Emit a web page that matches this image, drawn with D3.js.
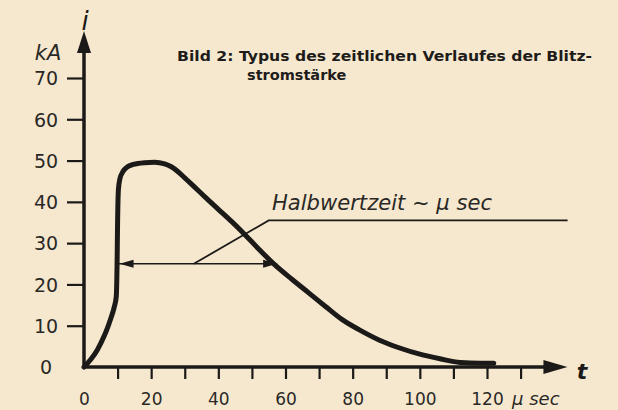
<!DOCTYPE html>
<html>
<head>
<meta charset="utf-8">
<script src="https://cdn.jsdelivr.net/npm/d3@7"></script>
<style>
  html, body { margin: 0; padding: 0; background: #f6e8cf; }
  svg { display: block; }
</style>
</head>
<body>
<svg id="chart" width="618" height="410"></svg>
<script>
// Blitzstrom: i (kA) over t (µs)
const timeUs = [0, 2, 4, 6, 7, 8, 9, 9.6, 9.85, 10, 10.25, 10.7, 11.5, 12.5, 14, 16, 18, 21, 24, 26,
                28, 30, 32, 36, 40, 44, 48, 52, 57, 62, 67, 72, 77, 82, 88, 94, 100, 106, 112, 118, 122];
const currentKA = [0, 1.8, 4.2, 7.5, 9.5, 11.8, 14.5, 17, 25, 35, 43, 45.6, 47.2, 48.2, 48.9, 49.3, 49.5, 49.6, 49.2, 48.5,
                   47.3, 45.8, 44.3, 41.2, 38.2, 35.2, 32.0, 28.6, 24.6, 21.2, 17.9, 14.6, 11.4, 9.0, 6.5, 4.6, 3.1, 2.0, 1.1, 0.9, 0.9];

const yTicks = [0, 10, 20, 30, 40, 50, 60, 70];
const xMinorTicks = [10, 20, 30, 40, 50, 60, 70, 80, 90, 100, 110, 120, 130];
const xLabels = [0, 20, 40, 60, 80, 100, 120];

// Halbwertzeit marker: arrow at half the peak, plus leader line to the text
const halfT = [10, 57.5];
const halfI = 25;
const leaderT = [32.7, 55, 144];
const leaderI = [25, 35.5, 35.5];

const titleLines = ["Bild 2: Typus des zeitlichen Verlaufes der Blitz-", "stromstärke"];
const noteText = "Halbwertzeit ~ µ sec";

const ink = "#1c1a18";
const svg = d3.select("#chart");

svg.append("rect").attr("width", 618).attr("height", 410).attr("fill", "#f6e8cf");

const x = d3.scaleLinear().domain([0, 120]).range([84, 487]);
const y = d3.scaleLinear().domain([0, 70]).range([367, 78]);

// axes lines with arrows
const xEnd = 138, yEnd = 77;
svg.append("line")
  .attr("x1", x(0)).attr("y1", y(0)).attr("x2", x(xEnd)).attr("y2", y(0))
  .attr("stroke", ink).attr("stroke-width", 3.5);
svg.append("line")
  .attr("x1", x(0)).attr("y1", y(0) + 1).attr("x2", x(0)).attr("y2", y(yEnd))
  .attr("stroke", ink).attr("stroke-width", 3.5);

svg.append("path")
  .attr("d", `M${x(xEnd) - 4},${y(0) - 7} L${x(xEnd) + 20},${y(0)} L${x(xEnd) - 4},${y(0) + 7} Z`)
  .attr("fill", ink);
svg.append("path")
  .attr("d", `M${x(0) - 7},${y(yEnd) + 4} L${x(0)},${y(yEnd) - 18} L${x(0) + 7},${y(yEnd) + 4} Z`)
  .attr("fill", ink);

// x ticks (below the axis) and labels
const gx = svg.append("g").attr("transform", `translate(0,${y(0)})`);
gx.call(d3.axisBottom(x).tickValues(xMinorTicks).tickSize(12).tickFormat(""));
gx.select(".domain").remove();
gx.selectAll(".tick line").attr("stroke", ink).attr("stroke-width", 2.2);

const gxl = svg.append("g").attr("transform", `translate(0,${y(0)})`);
gxl.call(d3.axisBottom(x).tickValues(xLabels).tickSize(0).tickPadding(26));
gxl.select(".domain").remove();
gxl.selectAll("text")
  .attr("font-family", "DejaVu Sans, sans-serif").attr("font-size", 17).attr("fill", "#2a2826");

// y ticks and labels
const gy = svg.append("g").attr("transform", `translate(${x(0)},0)`);
gy.call(d3.axisLeft(y).tickValues(yTicks).tickSize(17).tickPadding(4));
gy.select(".domain").remove();
gy.selectAll(".tick line")
  .attr("stroke", ink).attr("stroke-width", 2.2)
  .attr("display", d => d === 0 ? "none" : null);
gy.selectAll(".tick text")
  .attr("text-anchor", "middle").attr("x", -38).attr("dy", "0.36em")
  .attr("font-family", "DejaVu Sans, sans-serif").attr("font-size", 19).attr("fill", "#2a2826");

// axis names
svg.append("text").attr("x", 48).attr("y", 60).attr("text-anchor", "middle")
  .attr("font-family", "DejaVu Sans, sans-serif").attr("font-style", "italic")
  .attr("font-size", 21).attr("fill", "#2a2826").text("kA");
svg.append("text").attr("x", 85).attr("y", 30).attr("text-anchor", "middle")
  .attr("font-family", "DejaVu Sans, sans-serif").attr("font-style", "italic")
  .attr("font-size", 26).attr("fill", ink).text("i");
svg.append("text").attr("x", 582).attr("y", 379).attr("text-anchor", "middle")
  .attr("font-family", "DejaVu Sans, sans-serif").attr("font-style", "italic").attr("font-weight", "bold")
  .attr("font-size", 22).attr("fill", ink).text("t");
svg.append("text").attr("x", 512).attr("y", 405)
  .attr("font-family", "DejaVu Sans, sans-serif").attr("font-style", "italic")
  .attr("font-size", 18).attr("fill", "#2a2826").text("µ sec");

// title
svg.append("text").attr("x", 177).attr("y", 61).attr("textLength", 415).attr("lengthAdjust", "spacingAndGlyphs")
  .attr("font-family", "DejaVu Sans, sans-serif").attr("font-weight", "bold")
  .attr("font-size", 14.5).attr("fill", "#1e1c1a").text(titleLines[0]);
svg.append("text").attr("x", 247).attr("y", 80)
  .attr("font-family", "DejaVu Sans, sans-serif").attr("font-weight", "bold")
  .attr("font-size", 14.5).attr("fill", "#1e1c1a").text(titleLines[1]);

// current curve
const data = timeUs.map((t, k) => ({t: t, i: currentKA[k]}));
const line = d3.line().x(d => x(d.t)).y(d => y(d.i)).curve(d3.curveMonotoneX);
svg.append("path").datum(data)
  .attr("d", line)
  .attr("fill", "none").attr("stroke", ink).attr("stroke-width", 5)
  .attr("stroke-linejoin", "round").attr("stroke-linecap", "round");

// half-value arrow
const hy = y(halfI);
svg.append("line")
  .attr("x1", x(halfT[0])).attr("y1", hy).attr("x2", x(halfT[1])).attr("y2", hy)
  .attr("stroke", ink).attr("stroke-width", 1.6);
svg.append("path")
  .attr("d", `M${x(halfT[0]) + 2},${hy} L${x(halfT[0]) + 16},${hy - 4} L${x(halfT[0]) + 16},${hy + 4} Z`)
  .attr("fill", ink);
svg.append("path")
  .attr("d", `M${x(halfT[1])},${hy} L${x(halfT[1]) - 14},${hy - 4} L${x(halfT[1]) - 14},${hy + 4} Z`)
  .attr("fill", ink);

// leader line to the note
const leader = leaderT.map((t, k) => [x(t), y(leaderI[k])]);
svg.append("path").attr("d", d3.line()(leader))
  .attr("fill", "none").attr("stroke", ink).attr("stroke-width", 1.8);

svg.append("text").attr("x", 272).attr("y", 210).attr("textLength", 220).attr("lengthAdjust", "spacingAndGlyphs")
  .attr("font-family", "DejaVu Sans, sans-serif").attr("font-style", "italic")
  .attr("font-size", 21).attr("fill", "#2a2826").text(noteText);
</script>
</body>
</html>
